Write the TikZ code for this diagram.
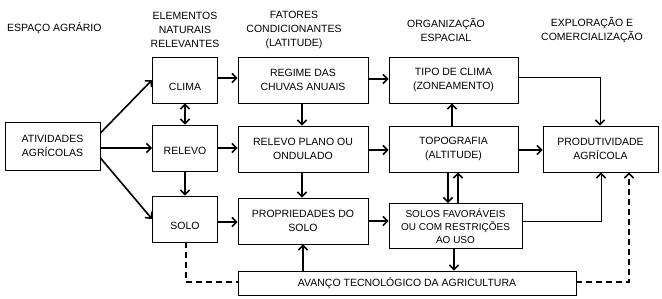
\documentclass[tikz,border=0pt]{standalone}
\usepackage{fontspec}
\setmainfont{Liberation Sans}
\usetikzlibrary{arrows.meta}
\begin{document}
\begin{tikzpicture}[x=1pt,y=-1pt,
  box/.style={draw, line width=0.9pt, inner sep=0pt, align=center,
    font=\fontsize{10.5}{13.5}\selectfont},
  hdr/.style={align=center, inner sep=0pt, font=\fontsize{10.5}{14}\selectfont},
  tip/.style={-{Straight Barb[length=4.5pt,width=9pt,line width=1.6pt]}},
  arr/.style={line width=1.6pt, tip},
  darr/.style={line width=1.6pt, {Straight Barb[length=4.5pt,width=9pt,line width=1.6pt]}-{Straight Barb[length=4.5pt,width=9pt,line width=1.6pt]}},
  thin/.style={line width=1pt, tip},
  dsh/.style={line width=1.6pt, dash pattern=on 6pt off 4pt, tip}
]
\useasboundingbox (0,0) rectangle (662,298);

% headers
\node[hdr, anchor=west] (h0) at (7,28) {ESPAÇO AGRÁRIO};
\node[hdr] (h1) at (185,30) {ELEMENTOS\\NATURAIS\\RELEVANTES};
\node[hdr] (h2) at (294,30) {FATORES\\CONDICIONANTES\\(LATITUDE)};
\node[hdr] (h3) at (446,30) {ORGANIZAÇÃO\\ESPACIAL};
\node[hdr] (h4) at (592,30) {EXPLORAÇÃO E\\COMERCIALIZAÇÃO};

% boxes
\node[box, minimum width=95pt, minimum height=48pt] (ativ) at (52.5,146) {ATIVIDADES\\AGRÍCOLAS};
\node[box, minimum width=65pt, minimum height=46pt, text height=21pt, text depth=0pt] (clima) at (185,80) {CLIMA};
\node[box, minimum width=65pt, minimum height=46pt, text height=13pt, text depth=0pt] (relevo) at (185,148) {RELEVO};
\node[box, minimum width=65pt, minimum height=46pt, text height=20pt, text depth=0pt] (solo) at (185,219) {SOLO};
\node[box, minimum width=130pt, minimum height=46pt] (regime) at (303,80) {REGIME DAS\\CHUVAS ANUAIS};
\node[box, minimum width=130pt, minimum height=46pt] (plano) at (303,149) {RELEVO PLANO OU\\ONDULADO};
\node[box, minimum width=130pt, minimum height=46pt] (prop) at (303,221) {PROPRIEDADES DO\\SOLO};
\node[box, minimum width=129pt, minimum height=46pt] (tipo) at (453.5,80) {TIPO DE CLIMA\\(ZONEAMENTO)};
\node[box, minimum width=129pt, minimum height=46pt] (topo) at (453.5,149) {TOPOGRAFIA\\(ALTITUDE)};
\node[box, minimum width=133pt, minimum height=45pt, font=\fontsize{10}{13}\selectfont, yshift=-1.5pt] (solos) at (455.5,224.5) {SOLOS FAVORÁVEIS\\OU COM RESTRIÇÕES\\AO USO};
\node[box, minimum width=115pt, minimum height=46pt] (prod) at (600.5,149) {PRODUTIVIDADE\\AGRÍCOLA};
\node[box, minimum width=338pt, minimum height=24pt] (avanco) at (407,283) {AVANÇO TECNOLÓGICO DA AGRICULTURA};

% arrows from atividades
\draw[arr] ([yshift=13pt]ativ.east) -- (clima.west);
\draw[arr] (ativ.east |- relevo.west) -- (relevo.west);
\draw[arr] ([yshift=-12pt]ativ.east) -- (solo.west);

% column 2
\draw[darr] (clima.south) -- (relevo.north);
\draw[arr] (relevo.south) -- (solo.north);
\draw[arr] ([yshift=2pt]clima.east) -- ([yshift=2pt]regime.west);
\draw[arr] (relevo.east) -- (relevo.east -| plano.west);
\draw[arr] ([yshift=-3pt]solo.east) -- ([yshift=-3pt]solo.east -| prop.west);

% column 3
\draw[arr] ([xshift=-1pt]regime.south) -- ([xshift=-1pt]plano.north);
\draw[arr] ([xshift=-1pt]plano.south) -- ([xshift=-1pt]prop.north);
\draw[arr] ([yshift=1pt]regime.east) -- ([yshift=1pt]tipo.west);
\draw[arr] ([yshift=-1pt]plano.east) -- ([yshift=-1pt]topo.west);
\draw[arr] (prop.east) -- (prop.east -| solos.west);
\draw[arr] (avanco.north -| prop.south) -- (prop.south);

% column 4
\draw[arr] ([xshift=-1.5pt]topo.north) -- ([xshift=-1.5pt]tipo.south);
\draw[arr] ([xshift=-5.5pt]topo.south) -- ([xshift=-5.5pt]topo.south |- solos.north);
\draw[arr] ([xshift=4.5pt]topo.south |- solos.north) -- ([xshift=4.5pt]topo.south);
\draw[arr] ([xshift=-1.5pt]solos.south) -- ([xshift=-1.5pt]solos.south |- avanco.north);
\draw[arr] ([yshift=-1pt]topo.east) -- ([yshift=-1pt]topo.east -| prod.west);

% to produtividade
\coordinate (c1) at (600,77);
\coordinate (c2) at (601,221);
\coordinate (c3) at (629,282);
\coordinate (c4) at (186,282);
\draw[thin] (tipo.east |- c1) -- (c1) -- (c1 |- prod.north);
\draw[thin] (solos.east |- c2) -- (c2) -- (c2 |- prod.south);
\draw[dsh] (avanco.east |- c3) -- (c3) -- (c3 |- prod.south);
\draw[line width=1.6pt, dash pattern=on 6pt off 4pt] (solo.south -| c4) -- (c4) -- (c4 -| avanco.west);
\end{tikzpicture}
\end{document}
